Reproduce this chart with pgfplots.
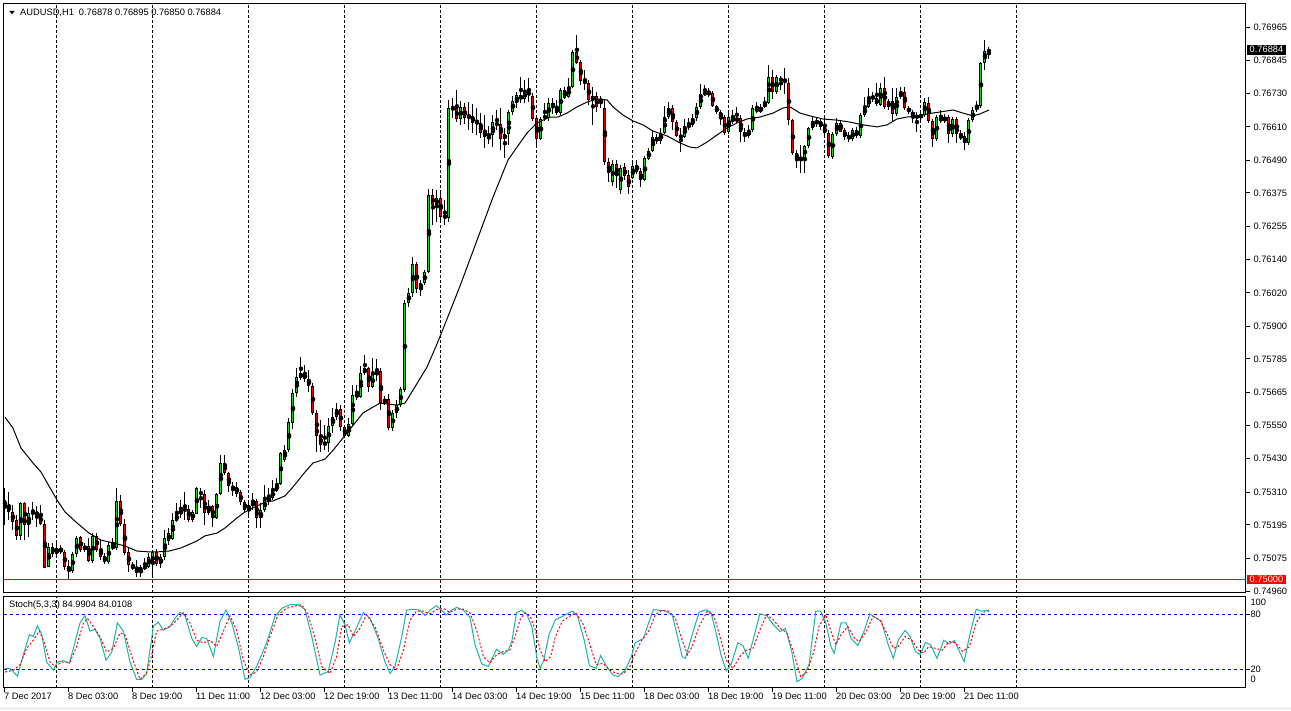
\documentclass[border=0pt]{standalone}
\usepackage{fontspec}
\setmainfont{Liberation Sans}
\usepackage{pgfplots}
\usepackage{pgfplotstable}
\pgfplotsset{compat=1.18}

\definecolor{bull}{RGB}{40,200,40}
\definecolor{bear}{RGB}{230,0,0}
\definecolor{stochk}{RGB}{32,178,170}
\definecolor{lvl}{RGB}{0,0,230}
\newcommand\mtfont{\fontsize{9.3}{11}\selectfont}

% AUDUSD H1 candles: index, open, high, low, close
\pgfplotstableread{
i o h l c
0 0.75284 0.75326 0.75195 0.75262
1 0.75266 0.75312 0.75212 0.75241
2 0.75241 0.75266 0.75177 0.75205
3 0.75212 0.75230 0.75141 0.75156
4 0.75156 0.75276 0.75141 0.75273
5 0.75273 0.75276 0.75141 0.75195
6 0.75195 0.75259 0.75152 0.75237
7 0.75241 0.75276 0.75212 0.75237
8 0.75241 0.75262 0.75188 0.75230
9 0.75230 0.75266 0.75195 0.75198
10 0.75198 0.75212 0.75045 0.75045
11 0.75045 0.75131 0.75045 0.75116
12 0.75116 0.75131 0.75081 0.75092
13 0.75092 0.75131 0.75077 0.75113
14 0.75113 0.75124 0.75092 0.75099
15 0.75099 0.75106 0.75035 0.75045
16 0.75049 0.75070 0.75003 0.75031
17 0.75031 0.75099 0.75024 0.75092
18 0.75092 0.75156 0.75081 0.75152
19 0.75152 0.75156 0.75099 0.75106
20 0.75106 0.75131 0.75099 0.75120
21 0.75120 0.75149 0.75063 0.75067
22 0.75067 0.75166 0.75060 0.75156
23 0.75156 0.75166 0.75099 0.75109
24 0.75109 0.75141 0.75070 0.75081
25 0.75085 0.75095 0.75056 0.75063
26 0.75063 0.75134 0.75056 0.75124
27 0.75124 0.75149 0.75106 0.75113
28 0.75113 0.75326 0.75106 0.75280
29 0.75280 0.75301 0.75191 0.75198
30 0.75198 0.75216 0.75088 0.75095
31 0.75099 0.75116 0.75028 0.75052
32 0.75052 0.75063 0.75035 0.75042
33 0.75042 0.75070 0.75010 0.75024
34 0.75024 0.75052 0.75010 0.75045
35 0.75042 0.75077 0.75035 0.75049
36 0.75045 0.75095 0.75042 0.75081
37 0.75056 0.75106 0.75013 0.75099
38 0.75099 0.75109 0.75049 0.75056
39 0.75056 0.75092 0.75045 0.75081
40 0.75081 0.75177 0.75070 0.75149
41 0.75138 0.75184 0.75124 0.75166
42 0.75145 0.75237 0.75141 0.75212
43 0.75209 0.75273 0.75205 0.75234
44 0.75234 0.75284 0.75220 0.75248
45 0.75252 0.75312 0.75212 0.75248
46 0.75252 0.75266 0.75205 0.75212
47 0.75212 0.75248 0.75205 0.75241
48 0.75237 0.75333 0.75234 0.75326
49 0.75312 0.75326 0.75255 0.75305
50 0.75305 0.75319 0.75195 0.75237
51 0.75237 0.75284 0.75230 0.75262
52 0.75262 0.75266 0.75188 0.75220
53 0.75220 0.75308 0.75216 0.75305
54 0.75305 0.75444 0.75301 0.75415
55 0.75415 0.75444 0.75372 0.75380
56 0.75380 0.75383 0.75312 0.75333
57 0.75333 0.75348 0.75298 0.75326
58 0.75330 0.75348 0.75294 0.75305
59 0.75312 0.75319 0.75266 0.75276
60 0.75276 0.75284 0.75241 0.75248
61 0.75248 0.75273 0.75230 0.75266
62 0.75262 0.75308 0.75248 0.75276
63 0.75280 0.75287 0.75184 0.75220
64 0.75220 0.75273 0.75184 0.75248
65 0.75248 0.75337 0.75241 0.75284
66 0.75276 0.75326 0.75269 0.75294
67 0.75291 0.75355 0.75284 0.75319
68 0.75316 0.75365 0.75312 0.75340
69 0.75340 0.75454 0.75337 0.75450
70 0.75426 0.75479 0.75419 0.75461
71 0.75461 0.75575 0.75454 0.75561
72 0.75557 0.75678 0.75539 0.75664
73 0.75664 0.75753 0.75650 0.75721
74 0.75718 0.75792 0.75710 0.75735
75 0.75735 0.75763 0.75703 0.75714
76 0.75714 0.75746 0.75667 0.75689
77 0.75689 0.75699 0.75586 0.75593
78 0.75593 0.75603 0.75454 0.75511
79 0.75511 0.75568 0.75454 0.75479
80 0.75479 0.75550 0.75461 0.75490
81 0.75486 0.75575 0.75454 0.75546
82 0.75546 0.75611 0.75522 0.75578
83 0.75578 0.75628 0.75568 0.75607
84 0.75607 0.75621 0.75532 0.75543
85 0.75543 0.75550 0.75508 0.75511
86 0.75511 0.75575 0.75508 0.75553
87 0.75553 0.75692 0.75550 0.75657
88 0.75650 0.75692 0.75639 0.75660
89 0.75650 0.75763 0.75646 0.75735
90 0.75735 0.75799 0.75728 0.75753
91 0.75753 0.75756 0.75667 0.75685
92 0.75685 0.75788 0.75682 0.75731
93 0.75728 0.75785 0.75707 0.75742
94 0.75742 0.75753 0.75603 0.75628
95 0.75628 0.75653 0.75621 0.75643
96 0.75643 0.75660 0.75532 0.75539
97 0.75539 0.75603 0.75529 0.75593
98 0.75593 0.75639 0.75575 0.75621
99 0.75621 0.75685 0.75614 0.75678
100 0.75675 0.75994 0.75667 0.75984
101 0.75984 0.76037 0.75970 0.76019
102 0.76019 0.76147 0.76005 0.76122
103 0.76122 0.76130 0.76019 0.76034
104 0.76034 0.76066 0.76009 0.76055
105 0.76055 0.76101 0.76048 0.76094
106 0.76094 0.76389 0.76091 0.76368
107 0.76368 0.76389 0.76261 0.76332
108 0.76332 0.76386 0.76272 0.76357
109 0.76357 0.76378 0.76279 0.76290
110 0.76297 0.76350 0.76261 0.76286
111 0.76286 0.76706 0.76272 0.76677
112 0.76677 0.76713 0.76642 0.76674
113 0.76677 0.76741 0.76627 0.76638
114 0.76638 0.76702 0.76617 0.76681
115 0.76681 0.76695 0.76620 0.76642
116 0.76649 0.76698 0.76599 0.76642
117 0.76649 0.76691 0.76588 0.76624
118 0.76627 0.76677 0.76581 0.76624
119 0.76624 0.76659 0.76570 0.76588
120 0.76595 0.76652 0.76535 0.76574
121 0.76567 0.76613 0.76549 0.76581
122 0.76581 0.76652 0.76538 0.76627
123 0.76624 0.76670 0.76599 0.76617
124 0.76620 0.76677 0.76528 0.76567
125 0.76567 0.76606 0.76499 0.76585
126 0.76585 0.76670 0.76546 0.76663
127 0.76663 0.76720 0.76652 0.76702
128 0.76695 0.76734 0.76677 0.76723
129 0.76723 0.76787 0.76695 0.76709
130 0.76709 0.76777 0.76695 0.76737
131 0.76737 0.76784 0.76698 0.76723
132 0.76720 0.76730 0.76631 0.76638
133 0.76642 0.76649 0.76546 0.76567
134 0.76567 0.76645 0.76563 0.76638
135 0.76642 0.76695 0.76634 0.76649
136 0.76642 0.76713 0.76634 0.76695
137 0.76695 0.76713 0.76656 0.76681
138 0.76659 0.76706 0.76652 0.76681
139 0.76659 0.76748 0.76652 0.76741
140 0.76713 0.76752 0.76709 0.76741
141 0.76716 0.76784 0.76713 0.76752
142 0.76752 0.76883 0.76748 0.76876
143 0.76876 0.76937 0.76834 0.76837
144 0.76841 0.76848 0.76759 0.76773
145 0.76777 0.76812 0.76741 0.76766
146 0.76766 0.76777 0.76688 0.76706
147 0.76706 0.76752 0.76617 0.76720
148 0.76720 0.76734 0.76663 0.76681
149 0.76706 0.76720 0.76677 0.76704
150 0.76677 0.76706 0.76475 0.76485
151 0.76485 0.76499 0.76414 0.76446
152 0.76414 0.76492 0.76400 0.76478
153 0.76478 0.76492 0.76393 0.76435
154 0.76386 0.76474 0.76371 0.76467
155 0.76467 0.76481 0.76421 0.76435
156 0.76439 0.76457 0.76371 0.76396
157 0.76428 0.76485 0.76425 0.76471
158 0.76474 0.76492 0.76443 0.76450
159 0.76453 0.76464 0.76396 0.76421
160 0.76421 0.76506 0.76418 0.76499
161 0.76499 0.76535 0.76492 0.76524
162 0.76524 0.76599 0.76521 0.76574
163 0.76574 0.76585 0.76549 0.76560
164 0.76560 0.76606 0.76549 0.76588
165 0.76588 0.76684 0.76585 0.76645
166 0.76645 0.76698 0.76638 0.76677
167 0.76677 0.76688 0.76599 0.76627
168 0.76627 0.76634 0.76574 0.76578
169 0.76581 0.76606 0.76521 0.76574
170 0.76574 0.76638 0.76570 0.76613
171 0.76610 0.76642 0.76599 0.76617
172 0.76617 0.76656 0.76610 0.76642
173 0.76642 0.76695 0.76634 0.76681
174 0.76681 0.76762 0.76674 0.76727
175 0.76730 0.76759 0.76720 0.76728
176 0.76728 0.76748 0.76716 0.76731
177 0.76730 0.76737 0.76681 0.76684
178 0.76684 0.76691 0.76656 0.76663
179 0.76663 0.76670 0.76617 0.76642
180 0.76645 0.76652 0.76581 0.76588
181 0.76592 0.76670 0.76585 0.76645
182 0.76645 0.76670 0.76620 0.76627
183 0.76631 0.76681 0.76624 0.76642
184 0.76642 0.76652 0.76556 0.76592
185 0.76592 0.76606 0.76556 0.76578
186 0.76578 0.76617 0.76570 0.76599
187 0.76599 0.76688 0.76595 0.76677
188 0.76666 0.76698 0.76659 0.76677
189 0.76666 0.76691 0.76659 0.76681
190 0.76681 0.76716 0.76677 0.76695
191 0.76695 0.76830 0.76691 0.76787
192 0.76787 0.76812 0.76709 0.76734
193 0.76734 0.76794 0.76727 0.76787
194 0.76780 0.76791 0.76741 0.76777
195 0.76773 0.76819 0.76730 0.76777
196 0.76766 0.76784 0.76617 0.76634
197 0.76634 0.76638 0.76510 0.76517
198 0.76517 0.76528 0.76464 0.76496
199 0.76499 0.76546 0.76446 0.76497
200 0.76499 0.76546 0.76446 0.76542
201 0.76542 0.76610 0.76535 0.76606
202 0.76606 0.76649 0.76599 0.76631
203 0.76631 0.76645 0.76610 0.76624
204 0.76631 0.76642 0.76599 0.76610
205 0.76610 0.76649 0.76581 0.76588
206 0.76588 0.76599 0.76499 0.76506
207 0.76506 0.76592 0.76499 0.76585
208 0.76585 0.76642 0.76578 0.76624
209 0.76624 0.76634 0.76592 0.76595
210 0.76599 0.76606 0.76563 0.76574
211 0.76581 0.76592 0.76556 0.76567
212 0.76567 0.76606 0.76560 0.76599
213 0.76599 0.76610 0.76570 0.76578
214 0.76578 0.76659 0.76570 0.76652
215 0.76652 0.76716 0.76645 0.76681
216 0.76681 0.76748 0.76677 0.76716
217 0.76716 0.76734 0.76698 0.76713
218 0.76713 0.76766 0.76684 0.76691
219 0.76691 0.76766 0.76684 0.76748
220 0.76748 0.76787 0.76674 0.76681
221 0.76681 0.76709 0.76670 0.76702
222 0.76702 0.76748 0.76631 0.76656
223 0.76656 0.76748 0.76649 0.76716
224 0.76716 0.76752 0.76709 0.76734
225 0.76734 0.76752 0.76670 0.76677
226 0.76677 0.76684 0.76656 0.76663
227 0.76663 0.76670 0.76624 0.76649
228 0.76649 0.76663 0.76592 0.76645
229 0.76645 0.76663 0.76634 0.76652
230 0.76652 0.76713 0.76645 0.76698
231 0.76698 0.76716 0.76624 0.76631
232 0.76631 0.76638 0.76538 0.76567
233 0.76567 0.76652 0.76560 0.76645
234 0.76645 0.76670 0.76624 0.76631
235 0.76631 0.76656 0.76624 0.76645
236 0.76645 0.76652 0.76553 0.76585
237 0.76585 0.76645 0.76574 0.76638
238 0.76638 0.76645 0.76553 0.76585
239 0.76578 0.76599 0.76563 0.76574
240 0.76578 0.76592 0.76528 0.76553
241 0.76553 0.76642 0.76546 0.76634
242 0.76634 0.76681 0.76627 0.76670
243 0.76670 0.76702 0.76663 0.76688
244 0.76684 0.76841 0.76677 0.76837
245 0.76837 0.76919 0.76812 0.76880
246 0.76878 0.76895 0.76850 0.76884
}\candles

\begin{document}
\begin{tikzpicture}[x=1pt,y=1pt]
\fill[white] (0,0) rectangle (1291,710);
\fill[black!6] (0,0) rectangle (1291,3);
\useasboundingbox (0,0) rectangle (1291,710);

% ---- price pane (plotted as points above 0.75000 to keep TeX dimensions small) ----
\begin{axis}[
    at={(4pt,117pt)}, anchor=south west, scale only axis,
    width=1242pt, height=589pt,
    xmin=-0.25, xmax=310.25, ymin=-4.71, ymax=204.68,
    axis line style={line width=1pt},
    xtick={13,37,...,253}, xticklabels={}, xtick style={draw=none},
    xmajorgrids, x grid style={black, line width=1pt, dash pattern=on 3pt off 2pt},
    ytick pos=right, yticklabel pos=right, tick align=outside,
    major tick length=4pt, ytick style={black, line width=1pt},
    ytick={-4,7.5,19.5,31,43,55,66.5,78.5,90,102,114,125.5,137.5,149,161,173,184.5,196.5},
    yticklabels={0.74960,0.75075,0.75195,0.75310,0.75430,0.75550,0.75665,0.75785,0.75900,
           0.76020,0.76140,0.76255,0.76375,0.76490,0.76610,0.76730,0.76845,0.76965},
    tick label style={font=\mtfont},
]
\addplot[red, line width=1pt, forget plot, y filter/.expression={(y-0.75)*10000}]
    coordinates {(-0.25,0.75) (310.25,0.75)};
% wicks
\addplot[only marks, mark=none, error bars/.cd, y dir=both, y explicit, error mark=none,
    error bar style={black, line width=1pt}]
    table[x=i, y expr={((\thisrow{h}+\thisrow{l})/2-0.75)*10000},
          y error expr={(\thisrow{h}-\thisrow{l})*5000}] {\candles};
% body outlines
\addplot[only marks, mark=none, error bars/.cd, y dir=both, y explicit, error mark=none,
    error bar style={black, line width=3pt}]
    table[x=i, y expr={((\thisrow{o}+\thisrow{c})/2-0.75)*10000},
          y error expr={max(abs(\thisrow{c}-\thisrow{o})*5000,0.18)}] {\candles};
% bull fill
\addplot[only marks, mark=none, restrict expr to domain={\thisrow{c}-\thisrow{o}}{0.00008:1},
    error bars/.cd, y dir=both, y explicit, error mark=none, error bar style={bull, line width=1pt}]
    table[x=i, y expr={((\thisrow{o}+\thisrow{c})/2-0.75)*10000},
          y error expr={abs(\thisrow{c}-\thisrow{o})*5000-0.355}] {\candles};
% bear fill
\addplot[only marks, mark=none, restrict expr to domain={\thisrow{c}-\thisrow{o}}{-1:-0.00008},
    error bars/.cd, y dir=both, y explicit, error mark=none, error bar style={bear, line width=1pt}]
    table[x=i, y expr={((\thisrow{o}+\thisrow{c})/2-0.75)*10000},
          y error expr={abs(\thisrow{c}-\thisrow{o})*5000-0.355}] {\candles};
% moving average
\addplot[black, line width=1pt, y filter/.expression={(y-0.75)*10000}] coordinates {
(0,0.75578)(2,0.75539)(4,0.75468)(7,0.75415)(9,0.75383)(11,0.75333)(13,0.75284)(15,0.75241)
(18,0.75202)(21,0.75166)(24,0.75141)(27,0.75131)(30,0.75120)(33,0.75102)(36,0.75099)(38,0.75099)
(41,0.75102)(44,0.75113)(48,0.75138)(50,0.75156)(53,0.75166)(55,0.75184)(58,0.75220)(60,0.75241)
(62,0.75255)(65,0.75276)(67,0.75280)(70,0.75298)(72,0.75330)(75,0.75383)(77,0.75415)(80,0.75429)
(82,0.75460)(85.5,0.75522)(89.5,0.75593)(93.75,0.75628)(98,0.75621)(100,0.75628)(102,0.75674)
(105.5,0.75756)(108,0.75838)(110.5,0.75927)(113.75,0.76044)(116,0.76130)(119,0.76245)(122,0.76360)
(125.75,0.76492)(128,0.76538)(130.5,0.76588)(133,0.76624)(136.25,0.76645)(138.25,0.76645)
(140.5,0.76659)(143,0.76681)(145.5,0.76698)(148,0.76709)(150.5,0.76706)(152,0.76681)(154.5,0.76652)
(157,0.76631)(159.5,0.76617)(162,0.76595)(165.5,0.76578)(168.75,0.76553)(171.25,0.76538)
(173,0.76535)(175.5,0.76556)(178,0.76581)(180.5,0.76606)(183,0.76624)(185.5,0.76638)(188.75,0.76645)
(192,0.76659)(194.5,0.76677)(196.25,0.76681)(198.75,0.76659)(201.25,0.76649)(204.5,0.76638)
(208,0.76634)(211.25,0.76627)(214.5,0.76617)(218,0.76610)(220.5,0.76617)(223,0.76638)(225.5,0.76645)
(228.75,0.76649)(230.5,0.76656)(233.75,0.76663)(237,0.76670)(239.5,0.76659)(242,0.76649)
(243.75,0.76656)(246,0.76670)};
\end{axis}

% ---- stochastic pane ----
\begin{axis}[
    at={(4pt,22.5pt)}, anchor=south west, scale only axis,
    width=1242pt, height=91pt,
    xmin=-0.25, xmax=310.25, ymin=0, ymax=100,
    axis line style={line width=1pt},
    tick align=outside, major tick length=4pt,
    xtick pos=left, xtick style={black, line width=1pt},
    xtick={0,16,...,240},
    xticklabels={7 Dec 2017,8 Dec 03:00,8 Dec 19:00,11 Dec 11:00,12 Dec 03:00,12 Dec 19:00,
        13 Dec 11:00,14 Dec 03:00,14 Dec 19:00,15 Dec 11:00,18 Dec 03:00,18 Dec 19:00,
        19 Dec 11:00,20 Dec 03:00,20 Dec 19:00,21 Dec 11:00},
    xticklabel style={anchor=north west, inner sep=0pt, xshift=-1pt, yshift=-1.5pt},
    extra x ticks={13,37,...,253}, extra x tick labels={},
    extra x tick style={grid=major, major tick length=0pt},
    x grid style={black, line width=1pt, dash pattern=on 3pt off 2pt},
    ytick pos=right, yticklabel pos=right, ytick style={black, line width=1pt},
    ytick={20,80}, yticklabels={20,80}, ymajorgrids,
    y grid style={lvl, line width=1pt, dash pattern=on 3pt off 3pt},
    extra y ticks={8.5,93.5}, extra y tick labels={0,100},
    extra y tick style={grid=none, major tick length=0pt, yticklabel style={xshift=4pt}},
    yticklabel style={xshift=-3pt},
    tick label style={font=\mtfont},
]
\addplot[stochk, line width=1pt] coordinates {
(0,21)(1.25,21)(3.1,12.6)(4.6,36)(6.1,58)(7.1,56)(8.1,68)(9.2,58)(10.4,28)(12.1,19)(13.1,28)
(14.6,29.5)(16.1,26.6)(17.1,43)(18.75,71)(20,79)(21.25,62)(22.5,64)(23.75,54)(25.25,30)(26.7,39)
(28.1,71)(29.6,62)(31.25,28)(32.9,9)(34.2,9)(35.4,15.5)(37.1,67)(38.3,72)(39.6,63)(41.25,67)
(42.5,76)(43.75,82.5)(45,79)(46.7,54)(47.9,45)(49.2,55)(50.4,54)(52.1,34)(53.75,73)(55.25,85)
(56.7,71)(58.3,45)(60,9)(61.25,11)(62.9,23)(65.4,49)(67.5,78)(69.2,87)(71.25,91)(73.3,91)
(75,85.6)(76.7,56)(78.75,13.7)(80.8,17.4)(82.5,49)(83.75,80)(85,69)(86.1,49)(87.5,62)(89.6,82.5)
(91.25,76)(93.3,54)(95,28)(96.25,15.5)(97.5,23)(99.2,56)(100.4,85)(102,86)(103.75,85)(105,79)
(106.25,85)(107.9,90)(108.75,86)(110.4,80)(111.7,85)(112.9,88)(114.6,85)(116.25,77)(117.5,47)
(119.2,26)(120.8,23)(122.9,42)(124.6,36.5)(125.8,41)(126.7,50.5)(127.9,82.5)(129.2,85)(130.5,80)
(131.7,67)(133,32)(133.8,21)(134.7,30)(136,58)(137.6,74.5)(139.3,78)(140.6,81)(141.9,84)
(143.1,79)(144.8,52)(146.1,24)(147.8,21)(148.9,35)(150.3,24)(152,13.7)(153.3,12)(155,19)
(156.6,34)(157.5,49)(159.6,54)(160.9,71)(162.1,85.5)(163.4,85)(165.1,84)(166.8,80)(168,58)
(169.3,34)(170.1,32)(171.8,58)(173.5,82.5)(175.2,85.5)(176.5,82.5)(177.6,63)(179,36)(180.3,18.5)
(181.5,25)(183.2,49)(184.5,46)(185.8,32)(187.5,60)(188.7,81)(190.4,79)(192.1,69)(193.8,61.5)
(195.1,65)(196.7,39.5)(198,6.3)(199.3,10)(201,25)(202.7,84)(203.9,84)(205.2,71)(206.5,45)
(207.3,37.6)(209,71)(210.3,71)(211.5,54)(213.2,46)(214.9,63.4)(216.2,81)(217.9,76)(219.1,72.6)
(220.8,47)(222.1,32)(223.3,52)(225,62.7)(226.3,56)(227.6,39.5)(228.8,36)(230.1,49.4)(231.4,47)
(233,32)(234.7,52)(236,48)(237.3,51.6)(238.5,40.6)(239.8,28.4)(241.1,56)(242.8,86)(244,84)(246,85)};
\addplot[red, line width=1pt, dash pattern=on 2pt off 2pt] coordinates {
(0,17)(2.1,19)(3.75,25)(5.4,43)(7.1,52)(8.6,62)(10,47)(11.25,28)(12.5,23)(14.2,28)(16.25,28)
(17.9,45)(19.6,71)(20.6,76)(22.1,67)(23.75,56)(25.4,39)(27.1,43)(28.75,60)(30,58)(31.7,34)
(33.75,9)(35.4,15.5)(36.7,36)(37.9,62)(39.6,64)(41.25,67)(42.9,74)(44.6,82)(46.25,71)(47.9,52)
(49.6,49)(51.25,52)(52.9,45)(54.6,62)(56.25,79)(57.9,63)(59.6,30)(61.25,13.7)(62.9,17)(64.6,34)
(66.25,56)(68.3,80)(70.4,87)(72.1,89)(74.2,91)(75.8,80)(77.5,54)(79.2,23)(81.25,15.5)(82.9,34)
(84.2,67)(85.8,69)(87.1,56)(88.75,65)(90.4,80)(92.5,67)(94.6,41)(96.25,25)(97.9,20)(99.6,41)
(101.25,74)(102.9,84)(104.6,84)(106.25,81)(107.9,85.5)(109.6,87)(111.25,82.5)(112.9,86)(114.6,86)
(116.25,82)(117.9,63)(119.6,34)(121.25,27)(122.9,36)(124.6,39.5)(126.2,41)(127.5,56)(128.8,74.5)
(130,82)(131.3,78)(132.6,63)(133.8,41)(135.1,28.4)(136.4,34)(137.6,56)(139.3,72.6)(141,78)
(142.7,82)(144.4,71)(146.1,49)(147.8,25)(149.5,26.6)(151.2,19)(152.8,15.5)(154.5,14.8)(156.2,23)
(157.5,37.6)(159.2,52)(160.9,61.6)(162.6,80)(164.2,85)(165.9,84)(167.6,76)(169.3,52)(170.6,36)
(171.8,45)(173.5,67)(175.6,84)(177.3,78)(179,52)(180.3,30)(182,21)(183.7,34)(185.3,41)(187,43)
(188.7,63)(190.4,80)(192.1,74.5)(193.8,65)(195.5,60)(197.2,37.6)(198.9,12)(200.5,17)(202.2,39.5)
(203.5,67)(205.2,80)(206.5,61.6)(207.7,47)(209,58)(210.7,67)(212.4,54)(213.6,50.5)(215.3,61.6)
(217,78)(218.7,74.5)(220.4,60)(222.1,43)(223.3,45)(225,56)(226.7,52)(228.4,41)(229.7,37.6)
(230.9,45)(232.6,43)(234.3,41)(236,50.5)(237.7,49)(239.4,39.5)(241.1,45)(242.8,71)(244.4,82.5)(246,84)};
\end{axis}

% labels and price boxes
\fill (9.3,699) -- (14.7,699) -- (12,695.7) -- cycle;
\node[anchor=west, inner sep=0pt, font=\mtfont] at (20,697) {AUDUSD,H1\hspace{5pt}0.76878 0.76895 0.76850 0.76884};
\node[anchor=west, inner sep=0pt, font=\mtfont] at (9,105) {Stoch(5,3,3) 84.9904 84.0108};
\node[anchor=west, fill=black, text=white, inner xsep=2.5pt, inner ysep=1.5pt, font=\mtfont] at (1247,660.2) {0.76884};
\node[anchor=west, fill=red, text=white, inner xsep=2.5pt, inner ysep=1.5pt, font=\mtfont] at (1247,130.4) {0.75000};
\end{tikzpicture}
\end{document}
